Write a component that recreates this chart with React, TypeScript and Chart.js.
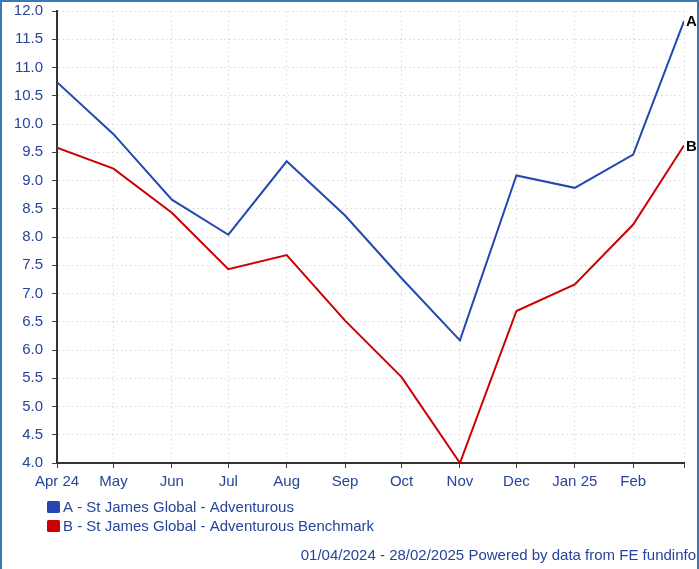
import React, { useEffect, useRef } from "react";
import { Chart, registerables } from "chart.js";

Chart.register(...registerables);

const dates = [
  "2024-04-01", "2024-05-01", "2024-06-01", "2024-07-01", "2024-08-01", "2024-09-01",
  "2024-10-01", "2024-11-01", "2024-12-01", "2025-01-01", "2025-02-01", "2025-02-28",
];
const tickLabels = ["Apr 24", "May", "Jun", "Jul", "Aug", "Sep", "Oct", "Nov", "Dec", "Jan 25", "Feb", ""];
const fundValues = [10.74, 9.82, 8.66, 8.04, 9.34, 8.38, 7.27, 6.17, 9.09, 8.87, 9.46, 11.82];
const benchValues = [9.58, 9.21, 8.43, 7.43, 7.68, 6.52, 5.52, 4.0, 6.69, 7.16, 8.22, 9.62];
const seriesNames = ["A - St James Global - Adventurous", "B - St James Global - Adventurous Benchmark"];
const seriesTags = ["A", "B"];
const seriesColors = ["#2548b0", "#cc0000"];
const footerText = "01/04/2024 - 28/02/2025 Powered by data from FE fundinfo";

const FONT = "'Liberation Sans', Arial, sans-serif";
const TEXT = "#27449b";

const start = Date.UTC(2024, 3, 1);
const dayOf = (s: string) => {
  const [y, m, d] = s.split("-").map(Number);
  return Math.round((Date.UTC(y, m - 1, d) - start) / 86400000);
};
const xs = dates.map(dayOf);

const extrasPlugin = {
  id: "extras",
  afterDatasetsDraw(chart: any) {
    const ctx = chart.ctx;
    ctx.save();
    chart.data.datasets.forEach((ds: any, i: number) => {
      const meta = chart.getDatasetMeta(i);
      const last = meta.data[meta.data.length - 1];
      ctx.font = `bold 15px ${FONT}`;
      ctx.fillStyle = "#000";
      ctx.textAlign = "left";
      ctx.textBaseline = "middle";
      ctx.fillText(seriesTags[i], last.x + 2, last.y + 1);
    });
    const rows = [505, 524];
    seriesNames.forEach((name, i) => {
      const cy = rows[i];
      ctx.fillStyle = seriesColors[i];
      ctx.beginPath();
      (ctx as any).roundRect(45, cy - 6, 13, 12, 1.5);
      ctx.fill();
      ctx.fillStyle = TEXT;
      ctx.font = `15px ${FONT}`;
      ctx.textAlign = "left";
      ctx.textBaseline = "middle";
      ctx.fillText(name, 61, cy + 1);
    });
    ctx.fillStyle = TEXT;
    ctx.font = `15px ${FONT}`;
    ctx.textAlign = "right";
    ctx.textBaseline = "middle";
    ctx.fillText(footerText, 694, 554);
    ctx.restore();
  },
};

export default function App() {
  const ref = useRef<HTMLCanvasElement>(null);
  useEffect(() => {
    if (!ref.current) return;
    const chart = new Chart(ref.current, {
      type: "line",
      data: {
        datasets: [
          {
            label: seriesNames[0],
            data: xs.map((x, i) => ({ x, y: fundValues[i] })),
            borderColor: seriesColors[0],
            borderWidth: 2,
            pointRadius: 0,
            tension: 0,
          },
          {
            label: seriesNames[1],
            data: xs.map((x, i) => ({ x, y: benchValues[i] })),
            borderColor: seriesColors[1],
            borderWidth: 2,
            pointRadius: 0,
            tension: 0,
          },
        ],
      },
      options: {
        animation: false,
        responsive: false,
        devicePixelRatio: 1,
        layout: { padding: { top: 9, right: 13, left: 0, bottom: 0 } },
        plugins: { legend: { display: false }, tooltip: { enabled: false } },
        scales: {
          x: {
            type: "linear",
            min: xs[0],
            max: xs[xs.length - 1],
            afterBuildTicks: (scale: any) => {
              scale.ticks = xs.map((v) => ({ value: v }));
            },
            afterFit: (scale: any) => {
              scale.height = 104;
              scale.paddingLeft = 0;
              scale.paddingRight = 0;
            },
            ticks: {
              autoSkip: false,
              maxRotation: 0,
              padding: 5,
              color: TEXT,
              font: { family: FONT, size: 15 },
              callback: (v: any) => {
                const i = xs.indexOf(Number(v));
                return i >= 0 ? tickLabels[i] : "";
              },
            },
            grid: { color: "#d9d9d9", tickLength: 5, tickColor: "#444", tickWidth: 1 },
            border: { color: "#333", width: 2, dash: [1.5, 3] },
          },
          y: {
            min: 4,
            max: 12,
            afterFit: (scale: any) => {
              scale.width = 55;
              scale.paddingTop = 0;
              scale.paddingBottom = 0;
            },
            ticks: {
              stepSize: 0.5,
              padding: 9,
              color: TEXT,
              font: { family: FONT, size: 15 },
              callback: (v: any) => Number(v).toFixed(1),
            },
            grid: { color: "#d9d9d9", tickLength: 5, tickColor: "#444", tickWidth: 1 },
            border: { color: "#333", width: 2, dash: [1.5, 3] },
          },
        },
      },
      plugins: [extrasPlugin],
    });
    return () => chart.destroy();
  }, []);
  return (
    <div
      style={{
        position: "fixed",
        left: 0,
        top: 0,
        width: 699,
        height: 572,
        boxSizing: "border-box",
        border: "2px solid #3a78b8",
        background: "#fff",
      }}
    >
      <canvas ref={ref} width={695} height={565} style={{ display: "block" }} />
    </div>
  );
}
